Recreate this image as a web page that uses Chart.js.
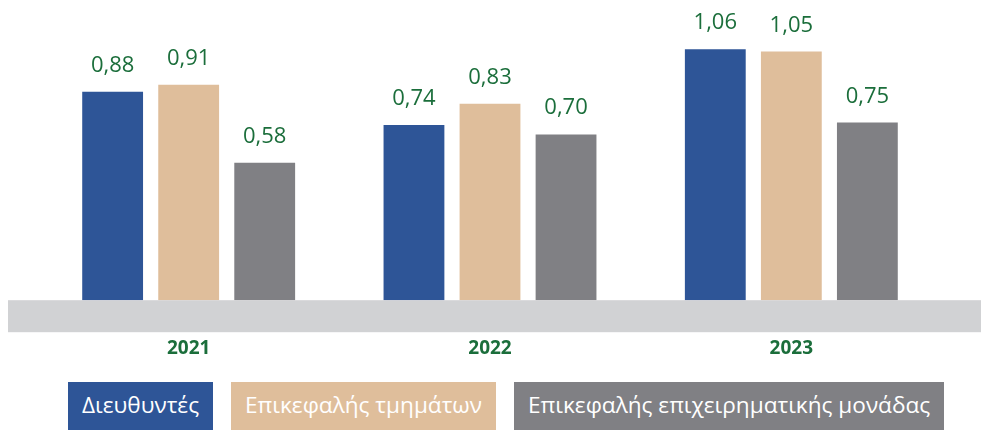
<!DOCTYPE html>
<html>
<head>
<meta charset="utf-8">
<script src="https://cdn.jsdelivr.net/npm/chart.js@4/dist/chart.umd.min.js"></script>
<style>
	html, body { margin: 0; padding: 0; background: #fff; }
	body { width: 984px; height: 430px; position: relative; overflow: hidden; font-family: 'Open Sans', sans-serif; }
	#chart-wrap { position: absolute; left: 0; top: 0; width: 984px; height: 409px; }
	#legend { position: absolute; left: 68px; top: 382px; display: flex; gap: 18px; }
	#legend div { height: 48px; line-height: 46px; padding: 0 14px; color: #fff; font-size: 22.6px; white-space: nowrap; }
</style>
</head>
<body>
<div id="chart-wrap"><canvas id="chart-area" width="984" height="409"></canvas></div>
<div id="legend"></div>
<script>
var years = ['2021', '2022', '2023'];
var seriesNames = ['Διευθυντές', 'Επικεφαλής τμημάτων', 'Επικεφαλής επιχειρηματικής μονάδας'];
var directors = [0.88, 0.74, 1.06];
var deptHeads = [0.91, 0.83, 1.05];
var unitHeads = [0.58, 0.70, 0.75];

var colors = {
	blue: '#2e5597',
	tan: '#dfbe9b',
	grey: '#808084',
	band: '#d1d2d4',
	green: '#1b6e3b'
};

// grey band under the bars
var bandPlugin = {
	id: 'band',
	beforeDatasetsDraw: function(chart) {
		var ctx = chart.ctx;
		var area = chart.chartArea;
		ctx.save();
		ctx.fillStyle = colors.band;
		ctx.fillRect(area.left - 30, area.bottom, (area.right - area.left) + 69, 32);
		ctx.restore();
	}
};

// value labels above each bar
var valuePlugin = {
	id: 'values',
	afterDatasetsDraw: function(chart) {
		var ctx = chart.ctx;
		ctx.save();
		ctx.fillStyle = colors.green;
		ctx.font = '22px "Open Sans"';
		ctx.textAlign = 'center';
		ctx.textBaseline = 'alphabetic';
		chart.data.datasets.forEach(function(ds, i) {
			chart.getDatasetMeta(i).data.forEach(function(bar, j) {
				var txt = ds.data[j].toFixed(2).replace('.', ',');
				ctx.fillText(txt, bar.x, bar.y - 20);
			});
		});
		ctx.restore();
	}
};

var config = {
	type: 'bar',
	data: {
		labels: years,
		datasets: [
			{ label: seriesNames[0], data: directors, backgroundColor: colors.blue },
			{ label: seriesNames[1], data: deptHeads, backgroundColor: colors.tan },
			{ label: seriesNames[2], data: unitHeads, backgroundColor: colors.grey }
		]
	},
	options: {
		responsive: false,
		animation: false,
		categoryPercentage: 0.757,
		barPercentage: 0.80,
		layout: {
			padding: { left: 38, right: 42, top: 16, bottom: 12 }
		},
		plugins: {
			legend: { display: false },
			tooltip: { enabled: false }
		},
		scales: {
			x: {
				grid: { display: false, drawTicks: false },
				border: { display: false },
				ticks: {
					padding: 37,
					color: colors.green,
					font: { family: 'Open Sans', size: 19, weight: 'bold' }
				}
			},
			y: {
				display: false,
				min: 0,
				max: 1.2
			}
		}
	},
	plugins: [bandPlugin, valuePlugin]
};

var ctx = document.getElementById('chart-area').getContext('2d');
var chart = new Chart(ctx, config);

var legendBox = document.getElementById('legend');
chart.data.datasets.forEach(function(ds) {
	var item = document.createElement('div');
	item.style.background = ds.backgroundColor;
	item.textContent = ds.label;
	legendBox.appendChild(item);
});
</script>
</body>
</html>
